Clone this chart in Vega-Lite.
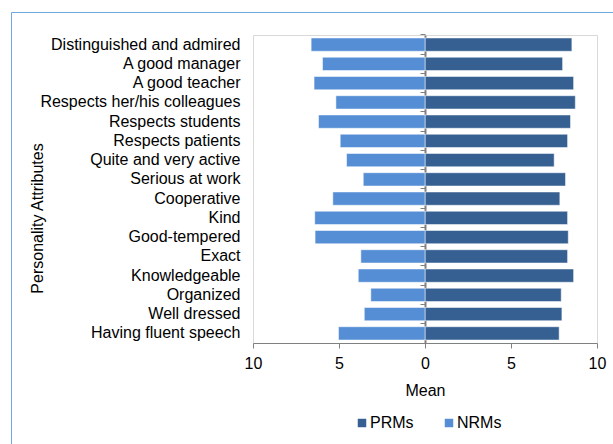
{
  "$schema": "https://vega.github.io/schema/vega-lite/v6.json",
  "width": 344,
  "height": 308,
  "autosize": {"type": "none"},
  "padding": {"left": 253, "top": 35, "right": 16, "bottom": 101},
  "background": "white",
  "config": {
    "font": "Liberation Sans",
    "view": {"stroke": "#d9d9d9", "strokeWidth": 1},
    "axis": {"labelFont": "Liberation Sans", "titleFont": "Liberation Sans", "labelColor": "#000000", "titleColor": "#000000", "labelFontSize": 16, "titleFontSize": 16, "titleFontWeight": "normal", "grid": false},
    "legend": {"labelFont": "Liberation Sans", "labelFontSize": 16, "labelColor": "#000000"}
  },
  "datasets": {
    "d": [
      {"attr": "Distinguished and admired", "series": "PRMs", "value": 8.54},
      {"attr": "A good manager", "series": "PRMs", "value": 8.0},
      {"attr": "A good teacher", "series": "PRMs", "value": 8.64},
      {"attr": "Respects her/his colleagues", "series": "PRMs", "value": 8.74},
      {"attr": "Respects students", "series": "PRMs", "value": 8.46},
      {"attr": "Respects patients", "series": "PRMs", "value": 8.29},
      {"attr": "Quite and very active ", "series": "PRMs", "value": 7.51},
      {"attr": "Serious at work", "series": "PRMs", "value": 8.17},
      {"attr": "Cooperative", "series": "PRMs", "value": 7.84},
      {"attr": "Kind", "series": "PRMs", "value": 8.29},
      {"attr": "Good-tempered", "series": "PRMs", "value": 8.33},
      {"attr": "Exact", "series": "PRMs", "value": 8.29},
      {"attr": "Knowledgeable", "series": "PRMs", "value": 8.64},
      {"attr": "Organized", "series": "PRMs", "value": 7.92},
      {"attr": "Well dressed", "series": "PRMs", "value": 7.96},
      {"attr": "Having fluent speech", "series": "PRMs", "value": 7.8},
      {"attr": "Distinguished and admired", "series": "NRMs", "value": 6.62},
      {"attr": "A good manager", "series": "NRMs", "value": 5.96},
      {"attr": "A good teacher", "series": "NRMs", "value": 6.45},
      {"attr": "Respects her/his colleagues", "series": "NRMs", "value": 5.18},
      {"attr": "Respects students", "series": "NRMs", "value": 6.19},
      {"attr": "Respects patients", "series": "NRMs", "value": 4.93},
      {"attr": "Quite and very active ", "series": "NRMs", "value": 4.56},
      {"attr": "Serious at work", "series": "NRMs", "value": 3.59},
      {"attr": "Cooperative", "series": "NRMs", "value": 5.36},
      {"attr": "Kind", "series": "NRMs", "value": 6.41},
      {"attr": "Good-tempered", "series": "NRMs", "value": 6.39},
      {"attr": "Exact", "series": "NRMs", "value": 3.73},
      {"attr": "Knowledgeable", "series": "NRMs", "value": 3.88},
      {"attr": "Organized", "series": "NRMs", "value": 3.15},
      {"attr": "Well dressed", "series": "NRMs", "value": 3.53},
      {"attr": "Having fluent speech", "series": "NRMs", "value": 5.03}
    ]
  },
  "data": {"name": "d"},
  "layer": [
    {
      "transform": [{"filter": "datum.series === 'PRMs'"}],
      "mark": {"type": "bar", "stroke": "#ffffff", "strokeOpacity": 0.5, "strokeWidth": 1},
      "encoding": {
        "x": {
          "field": "value", "type": "quantitative",
          "scale": {"domain": [-10, 10], "nice": false, "zero": true},
          "axis": {"values": [-10, -5, 0, 5, 10], "labelExpr": "abs(datum.value)", "labelFlush": false, "tickSize": 5, "tickColor": "#808080", "domainColor": "#808080", "labelPadding": 7, "title": "Mean", "titleY": 52, "titleBaseline": "alphabetic"}
        },
        "y": {
          "field": "attr", "type": "nominal", "sort": null,
          "scale": {"paddingInner": 0.31, "paddingOuter": 0.155},
          "axis": {"title": "Personality Attributes", "ticks": false, "tickSize": 0, "domain": false, "labelPadding": 13, "labelLimit": 300, "titleX": -216, "titleY": 183, "titleAngle": -90, "titleAlign": "center", "titleBaseline": "middle"}
        },
        "color": {
          "field": "series", "type": "nominal",
          "scale": {"domain": ["PRMs", "NRMs"], "range": ["#376092", "#558ED5"]},
          "legend": {"orient": "none", "legendX": 101, "legendY": 380, "direction": "horizontal", "title": null, "symbolType": "square", "symbolSize": 72, "symbolStrokeWidth": 0, "columnPadding": 27, "labelOffset": 0}
        }
      }
    },
    {
      "transform": [{"filter": "datum.series === 'NRMs'"}],
      "mark": {"type": "bar", "stroke": "#ffffff", "strokeOpacity": 0.5, "strokeWidth": 1},
      "encoding": {
        "x": {
          "field": "value", "type": "quantitative",
          "scale": {"domain": [-10, 10], "nice": false, "zero": true, "reverse": true},
          "axis": null
        },
        "y": {
          "field": "attr", "type": "nominal", "sort": null,
          "scale": {"paddingInner": 0.31, "paddingOuter": 0.155},
          "axis": {"orient": "left", "offset": -172, "labels": false, "title": null, "ticks": true, "tickSize": 5, "tickColor": "#808080", "domain": true, "domainColor": "#808080", "domainWidth": 2, "bandPosition": -0.225}
        },
        "color": {"field": "series", "type": "nominal"},
        "opacity": {
          "field": "attr", "type": "nominal",
          "scale": {"range": [1, 1]},
          "legend": {"orient": "none", "legendX": -242, "legendY": -23, "padding": 700, "strokeColor": "#6FA8DC", "title": null, "symbolOpacity": 0, "labelOpacity": 0, "labelExpr": "''", "symbolLimit": 1}
        }
      }
    }
  ],
  "resolve": {"scale": {"x": "independent"}, "axis": {"x": "independent", "y": "independent"}}
}
